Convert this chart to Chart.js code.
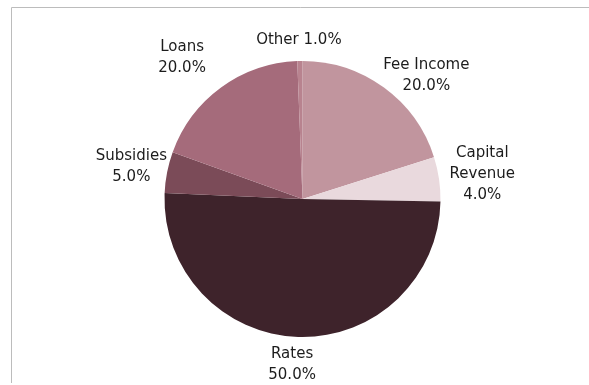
<!DOCTYPE html>
<html>
<head>
<meta charset="utf-8">
<script src="https://cdn.jsdelivr.net/npm/chart.js@4/dist/chart.umd.min.js"></script>
<style>
  html, body { margin: 0; padding: 0; background: #fff; }
  #wrap { width: 589px; height: 385px; }
</style>
</head>
<body>
<div id="wrap"><canvas id="myChart" width="589" height="385"></canvas></div>
<script>
// Revenue sources, clockwise from 12 o'clock
const categories = ["Fee Income", "Capital\nRevenue", "Rates", "Subsidies", "Loans", "Other"];
// slice sizes as drawn in the picture
const shares = [20.1, 5.2, 50.4, 4.8, 18.9, 0.6];
// percentages as printed on the picture
const shareLabels = ["20.0%", "4.0%", "50.0%", "5.0%", "20.0%", "1.0%"];
const sliceColors = ["#c1959e", "#e9d9dd", "#3e232b", "#7b4b58", "#a56b7b", "#b8838f"];

// small hand nudges for the label boxes (Excel doesn't place them purely radially)
const labelNudge = [[11, 13], [1, 1], [-5, -3], [9, 0], [-19, -5], [0, 0]];

// frame lines (top + left only) like the original picture
const framePlugin = {
  id: 'frame',
  beforeDraw(chart) {
    const c = chart.ctx;
    c.save();
    c.strokeStyle = '#bcbcbc';
    c.lineWidth = 1;
    c.beginPath();
    c.moveTo(11.5, 383);
    c.lineTo(11.5, 7.5);
    c.lineTo(589, 7.5);
    c.stroke();
    c.restore();
  }
};

// outside labels: name + percentage, box pushed out from the slice
const outsideLabels = {
  id: 'outsideLabels',
  afterDatasetsDraw(chart) {
    const c = chart.ctx;
    const meta = chart.getDatasetMeta(0);
    const lineH = 21;
    c.save();
    c.font = '15px "DejaVu Sans"';
    c.fillStyle = '#1c1c1c';
    c.textAlign = 'center';
    c.textBaseline = 'middle';
    meta.data.forEach((arc, i) => {
      const p = arc.getProps(['x', 'y', 'startAngle', 'endAngle', 'outerRadius'], true);
      const mid = (p.startAngle + p.endAngle) / 2;
      const ux = Math.cos(mid), uy = Math.sin(mid);
      const pct = shareLabels[i];
      let lines = categories[i].split('\n');
      if (shares[i] < 2) lines = [lines.join(' ') + ' ' + pct];
      else lines.push(pct);
      const w = Math.max(...lines.map(t => c.measureText(t).width));
      const h = lines.length * lineH;
      const gap = 10;
      const ax = p.x + ux * (p.outerRadius + gap);
      const ay = p.y + uy * (p.outerRadius + gap);
      const cx = ax + ux * w / 2 + labelNudge[i][0];
      const cy = ay + uy * h / 2 + labelNudge[i][1];
      lines.forEach((t, k) => {
        c.fillText(t, cx, cy - h / 2 + lineH / 2 + k * lineH);
      });
    });
    c.restore();
  }
};

const ctx = document.getElementById('myChart').getContext('2d');
const pieChart = new Chart(ctx, {
  type: 'pie',
  data: {
    labels: categories,
    datasets: [{
      data: shares,
      backgroundColor: sliceColors,
      borderWidth: 0
    }]
  },
  options: {
    responsive: false,
    animation: false,
    layout: { padding: { left: 164, right: 148, top: 61, bottom: 48 } },
    plugins: {
      legend: { display: false },
      tooltip: { enabled: false }
    }
  },
  plugins: [framePlugin, outsideLabels]
});
</script>
</body>
</html>
